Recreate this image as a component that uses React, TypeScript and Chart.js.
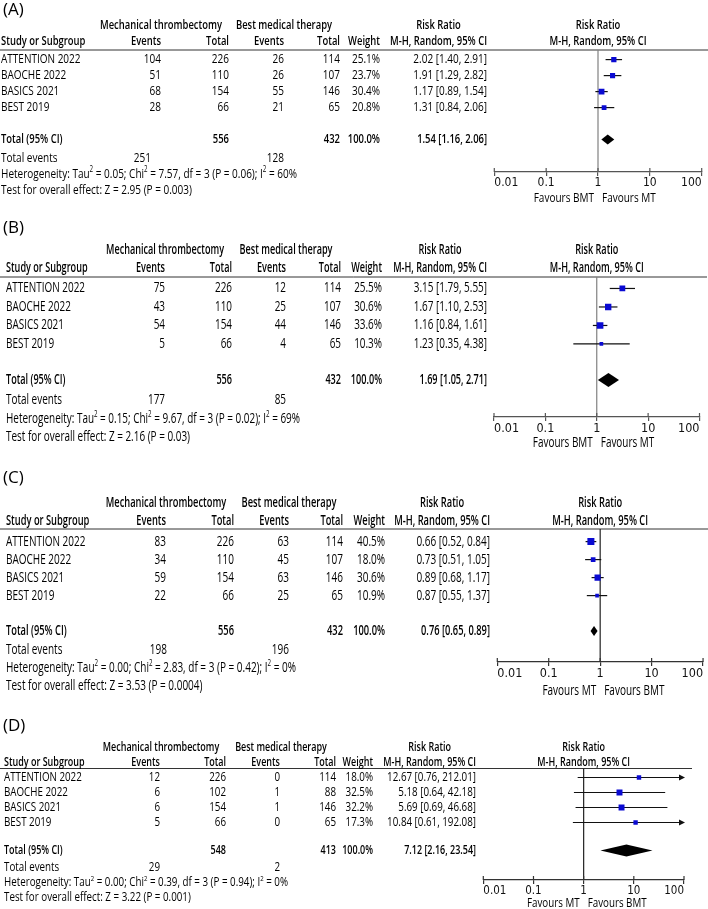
import React, { useEffect, useRef } from 'react';
import { Chart, registerables } from 'chart.js';

Chart.register(...registerables);

const FONT = "'Open Sans', 'Noto Sans', sans-serif";
const TICK_FONT = "'Liberation Sans Narrow', 'DejaVu Sans Condensed', sans-serif";
const BOLD = '600';

const studies = ['ATTENTION 2022', 'BAOCHE 2022', 'BASICS 2021', 'BEST 2019'];
const axisTicks = [0.01, 0.1, 1, 10, 100];
const groupLabels = ['Mechanical thrombectomy', 'Best medical therapy'];
const panelLabels = ['(A)', '(B)', '(C)', '(D)'];

// (A)
const aMtEvents = [104, 51, 68, 28];
const aMtTotal = [226, 110, 154, 66];
const aBmtEvents = [26, 26, 55, 21];
const aBmtTotal = [114, 107, 146, 65];
const aWeight = [25.1, 23.7, 30.4, 20.8];
const aRR = [2.02, 1.91, 1.17, 1.31];
const aLow = [1.4, 1.29, 0.89, 0.84];
const aHigh = [2.91, 2.82, 1.54, 2.06];
const aPooled = [1.54, 1.16, 2.06];
const aHet = ['0.05', '7.57', '3', '0.06', '60'];
const aZ = ['2.95', '0.003'];
const aFavours = ['Favours BMT', 'Favours MT'];

// (B)
const bMtEvents = [75, 43, 54, 5];
const bMtTotal = [226, 110, 154, 66];
const bBmtEvents = [12, 25, 44, 4];
const bBmtTotal = [114, 107, 146, 65];
const bWeight = [25.5, 30.6, 33.6, 10.3];
const bRR = [3.15, 1.67, 1.16, 1.23];
const bLow = [1.79, 1.1, 0.84, 0.35];
const bHigh = [5.55, 2.53, 1.61, 4.38];
const bPooled = [1.69, 1.05, 2.71];
const bHet = ['0.15', '9.67', '3', '0.02', '69'];
const bZ = ['2.16', '0.03'];
const bFavours = ['Favours BMT', 'Favours MT'];

// (C)
const cMtEvents = [83, 34, 59, 22];
const cMtTotal = [226, 110, 154, 66];
const cBmtEvents = [63, 45, 63, 25];
const cBmtTotal = [114, 107, 146, 65];
const cWeight = [40.5, 18.0, 30.6, 10.9];
const cRR = [0.66, 0.73, 0.89, 0.87];
const cLow = [0.52, 0.51, 0.68, 0.55];
const cHigh = [0.84, 1.05, 1.17, 1.37];
const cPooled = [0.76, 0.65, 0.89];
const cHet = ['0.00', '2.83', '3', '0.42', '0'];
const cZ = ['3.53', '0.0004'];
const cFavours = ['Favours MT', 'Favours BMT'];

// (D)
const dMtEvents = [12, 6, 6, 5];
const dMtTotal = [226, 102, 154, 66];
const dBmtEvents = [0, 1, 1, 0];
const dBmtTotal = [114, 88, 146, 65];
const dWeight = [18.0, 32.5, 32.2, 17.3];
const dRR = [12.67, 5.18, 5.69, 10.84];
const dLow = [0.76, 0.64, 0.69, 0.61];
const dHigh = [212.01, 42.18, 46.68, 192.08];
const dPooled = [7.12, 2.16, 23.54];
const dHet = ['0.00', '0.39', '3', '0.94', '0'];
const dZ = ['3.22', '0.001'];
const dFavours = ['Favours MT', 'Favours BMT'];

type PanelData = {
  label: string;
  mtEvents: number[]; mtTotal: number[]; bmtEvents: number[]; bmtTotal: number[];
  weight: number[]; rr: number[]; low: number[]; high: number[];
  pooled: number[]; het: string[]; z: string[]; favours: string[];
};

const panels: PanelData[] = [
  { label: panelLabels[0], mtEvents: aMtEvents, mtTotal: aMtTotal, bmtEvents: aBmtEvents, bmtTotal: aBmtTotal, weight: aWeight, rr: aRR, low: aLow, high: aHigh, pooled: aPooled, het: aHet, z: aZ, favours: aFavours },
  { label: panelLabels[1], mtEvents: bMtEvents, mtTotal: bMtTotal, bmtEvents: bBmtEvents, bmtTotal: bBmtTotal, weight: bWeight, rr: bRR, low: bLow, high: bHigh, pooled: bPooled, het: bHet, z: bZ, favours: bFavours },
  { label: panelLabels[2], mtEvents: cMtEvents, mtTotal: cMtTotal, bmtEvents: cBmtEvents, bmtTotal: cBmtTotal, weight: cWeight, rr: cRR, low: cLow, high: cHigh, pooled: cPooled, het: cHet, z: cZ, favours: cFavours },
  { label: panelLabels[3], mtEvents: dMtEvents, mtTotal: dMtTotal, bmtEvents: dBmtEvents, bmtTotal: dBmtTotal, weight: dWeight, rr: dRR, low: dLow, high: dHigh, pooled: dPooled, het: dHet, z: dZ, favours: dFavours },
];

// Layout (page pixel positions, styles)
const layouts = [
  { top: 0, height: 205, labelY: 10, grpY: 25, hdrY: 41, lineY: 50, rowH: 16, rowOff: 0.6, totalRow: 5.6, evY: 158, hetY: 174, testY: 190, axisY: 172, favY: 198, fs: 13, hetW: 296, grpW: 122, xStudy: 1, xMtEv: 161, xMtTot: 229, xBmtEv: 284, xBmtTot: 340, xW: 380, xRR: 487, plotL: 494.3, plotR: 701.7, lineX2: 708, grpMt: 161, grpBmt: 284, evMtX: 151, sq: 1.05, dh: 10, refColor: '#808080', axisColor: '#555', tickFs: 12 },
  { top: 205, height: 255, labelY: 228, grpY: 250, hdrY: 268, lineY: 277, rowH: 18.5, rowOff: 0.62, totalRow: 5.57, evY: 400, hetY: 419, testY: 437, axisY: 417, favY: 443, fs: 14, hetW: 294, grpW: 118, xStudy: 6, xMtEv: 165, xMtTot: 232, xBmtEv: 286, xBmtTot: 341, xW: 382, xRR: 487, plotL: 494, plotR: 699.5, lineX2: 707, grpMt: 165, grpBmt: 286, evMtX: 165, sq: 1.15, dh: 14, refColor: '#808080', axisColor: '#555', tickFs: 12.5 },
  { top: 460, height: 245, labelY: 478, grpY: 503, hdrY: 521, lineY: 529, rowH: 18, rowOff: 0.7, totalRow: 5.67, evY: 650, hetY: 668, testY: 686, axisY: 662, favY: 691, fs: 14, hetW: 290, grpW: 120.5, xStudy: 6, xMtEv: 166, xMtTot: 234, xBmtEv: 289, xBmtTot: 343, xW: 385, xRR: 490, plotL: 497.3, plotR: 703.3, lineX2: 708, grpMt: 166, grpBmt: 289, evMtX: 167, sq: 1.1, dh: 10, refColor: '#222', axisColor: '#333', tickFs: 12.5 },
  { top: 705, height: 204, labelY: 726, grpY: 748, hdrY: 763, lineY: 768.5, rowH: 15, rowOff: 0.6, totalRow: 5.47, evY: 868, hetY: 883, testY: 898, axisY: 880, favY: 904, fs: 12, hetW: 284, grpW: 116.5, xStudy: 4, xMtEv: 160, xMtTot: 226, xBmtEv: 280, xBmtTot: 336, xW: 373, xRR: 476, plotL: 483.3, plotR: 684, lineX2: 692, grpMt: 161, grpBmt: 281, evMtX: 160, sq: 1.05, dh: 12, refColor: '#222', axisColor: '#333', tickFs: 11.5 },
];

const AXIS_H = 20;
const PAGE_W = 708;

const sum = (a: number[]) => a.reduce((s, v) => s + v, 0);
const fmtCI = (e: number, l: number, h: number) => `${e.toFixed(2)} [${l.toFixed(2)}, ${h.toFixed(2)}]`;

function ForestPanel({ d, L }: { d: PanelData; L: any }) {
  const ref = useRef<HTMLCanvasElement | null>(null);
  useEffect(() => {
    const canvas = ref.current;
    if (!canvas) return;
    const rowVals = d.rr.map((_, i) => L.rowOff + i);
    const yMax = (L.axisY - L.lineY) / L.rowH;
    const off = L.top;

    const plugin = {
      id: 'forestTable',
      beforeDatasetsDraw(chart: any) {
        const ctx = chart.ctx as CanvasRenderingContext2D;
        const xs = chart.scales.x;
        const ys = chart.scales.y;
        const x1 = xs.getPixelForValue(1);
        const yTop = ys.getPixelForValue(0);
        const yBot = ys.getPixelForValue(yMax);
        ctx.save();
        const seg = (a: number, b: number, c: number, e: number) => {
          ctx.beginPath(); ctx.moveTo(a, b); ctx.lineTo(c, e); ctx.stroke();
        };
        ctx.strokeStyle = '#333';
        ctx.lineWidth = 1;
        seg(0, yTop, L.lineX2, yTop);
        ctx.strokeStyle = L.refColor;
        ctx.lineWidth = 1.2;
        seg(x1, yTop, x1, yBot);
        ctx.strokeStyle = L.axisColor;
        ctx.lineWidth = 1.2;
        axisTicks.forEach((t) => {
          const x = xs.getPixelForValue(t);
          seg(x, yBot - 4, x, yBot);
        });
        ctx.strokeStyle = '#111';
        ctx.fillStyle = '#111';
        ctx.lineWidth = 1.2;
        d.low.forEach((lo, i) => {
          const hi = d.high[i];
          const y = ys.getPixelForValue(rowVals[i]);
          const xl = xs.getPixelForValue(Math.max(lo, xs.min));
          const xr = xs.getPixelForValue(Math.min(hi, xs.max));
          seg(xl, y, xr, y);
          if (hi > xs.max) {
            ctx.beginPath(); ctx.moveTo(xr + 1, y); ctx.lineTo(xr - 5, y - 3); ctx.lineTo(xr - 5, y + 3); ctx.closePath(); ctx.fill();
          }
          if (lo < xs.min) {
            ctx.beginPath(); ctx.moveTo(xl - 1, y); ctx.lineTo(xl + 5, y - 3); ctx.lineTo(xl + 5, y + 3); ctx.closePath(); ctx.fill();
          }
        });
        ctx.restore();
      },
      afterDraw(chart: any) {
        const ctx = chart.ctx as CanvasRenderingContext2D;
        const xs = chart.scales.x;
        const ys = chart.scales.y;
        const x1 = xs.getPixelForValue(1);
        ctx.save();
        const yT = ys.getPixelForValue(L.totalRow);
        const [pe, pl, ph] = d.pooled;
        ctx.fillStyle = '#000';
        ctx.beginPath();
        ctx.moveTo(xs.getPixelForValue(pl), yT);
        ctx.lineTo(xs.getPixelForValue(pe), yT - L.dh / 2);
        ctx.lineTo(xs.getPixelForValue(ph), yT);
        ctx.lineTo(xs.getPixelForValue(pe), yT + L.dh / 2);
        ctx.closePath();
        ctx.fill();

        const [tau, chi, df, p, i2] = d.het;
        const hetParts: [string, boolean][] = [
          ['Heterogeneity: Tau', false], ['2', true], [` = ${tau}; Chi`, false], ['2', true],
          [` = ${chi}, df = ${df} (P = ${p}); I`, false], ['2', true], [` = ${i2}%`, false],
        ];
        const supFs = L.fs * 0.62;
        let rawW = 0;
        hetParts.forEach(([t, sup]) => {
          ctx.font = `${sup ? supFs : L.fs}px ${FONT}`;
          rawW += ctx.measureText(t).width;
        });
        const sx = L.hetW / rawW;
        ctx.font = `${BOLD} ${L.fs}px ${FONT}`;
        const sxB = L.grpW / ctx.measureText(groupLabels[0]).width;

        const T = (txt: string, x: number, y: number, align: CanvasTextAlign, bold = false, size = L.fs, scale?: number) => {
          ctx.save();
          ctx.font = `${bold ? BOLD + ' ' : ''}${size}px ${FONT}`;
          ctx.translate(x, y);
          ctx.scale(scale ?? (bold ? sxB : sx), 1);
          ctx.textAlign = align;
          ctx.textBaseline = 'middle';
          ctx.fillStyle = '#000';
          ctx.fillText(txt, 0, 0);
          ctx.restore();
        };
        const W = (txt: string, bold = false) => {
          ctx.save();
          ctx.font = `${bold ? BOLD + ' ' : ''}${L.fs}px ${FONT}`;
          const w = ctx.measureText(txt).width * (bold ? sxB : sx);
          ctx.restore();
          return w;
        };

        T(d.label, 3, L.labelY - off, 'left', false, 17, 1);
        const gy = L.grpY - off;
        T(groupLabels[0], L.grpMt, gy, 'center', true);
        T(groupLabels[1], L.grpBmt, gy, 'center', true);
        const mh = 'M-H, Random, 95% CI';
        const mhW = W(mh, true);
        T('Risk Ratio', L.xRR - mhW / 2, gy, 'center', true);
        T('Risk Ratio', x1, gy, 'center', true);
        const hy = L.hdrY - off;
        T('Study or Subgroup', L.xStudy, hy, 'left', true);
        T('Events', L.xMtEv, hy, 'right', true);
        T('Total', L.xMtTot, hy, 'right', true);
        T('Events', L.xBmtEv, hy, 'right', true);
        T('Total', L.xBmtTot, hy, 'right', true);
        T('Weight', L.xW, hy, 'right', true);
        T(mh, L.xRR, hy, 'right', true);
        T(mh, x1, hy, 'center', true);

        studies.forEach((s, i) => {
          const y = ys.getPixelForValue(rowVals[i]);
          T(s, L.xStudy, y, 'left');
          T(String(d.mtEvents[i]), L.xMtEv, y, 'right');
          T(String(d.mtTotal[i]), L.xMtTot, y, 'right');
          T(String(d.bmtEvents[i]), L.xBmtEv, y, 'right');
          T(String(d.bmtTotal[i]), L.xBmtTot, y, 'right');
          T(`${d.weight[i].toFixed(1)}%`, L.xW, y, 'right');
          T(fmtCI(d.rr[i], d.low[i], d.high[i]), L.xRR, y, 'right');
        });

        T('Total (95% CI)', L.xStudy, yT, 'left', true);
        T(String(sum(d.mtTotal)), L.xMtTot, yT, 'right', true);
        T(String(sum(d.bmtTotal)), L.xBmtTot, yT, 'right', true);
        T(`${sum(d.weight).toFixed(1)}%`, L.xW, yT, 'right', true);
        T(fmtCI(pe, pl, ph), L.xRR, yT, 'right', true);

        const ey = L.evY - off;
        T('Total events', L.xStudy, ey, 'left');
        T(String(sum(d.mtEvents)), L.evMtX, ey, 'right');
        T(String(sum(d.bmtEvents)), L.xBmtEv, ey, 'right');

        let cx = L.xStudy;
        const hy2 = L.hetY - off;
        hetParts.forEach(([t, sup]) => {
          const size = sup ? supFs : L.fs;
          ctx.font = `${size}px ${FONT}`;
          const w = ctx.measureText(t).width * sx;
          T(t, cx, sup ? hy2 - L.fs * 0.32 : hy2, 'left', false, size);
          cx += w;
        });
        T(`Test for overall effect: Z = ${d.z[0]} (P = ${d.z[1]})`, L.xStudy, L.testY - off, 'left');

        const fy = L.favY - off;
        T(d.favours[0], x1 - 4, fy, 'right');
        T(d.favours[1], x1 + 4, fy, 'left');
        ctx.restore();
      },
    };

    const chart = new Chart(canvas, {
      type: 'scatter',
      data: {
        datasets: [
          {
            data: d.rr.map((v, i) => ({ x: v, y: rowVals[i] })),
            pointStyle: 'rect',
            pointRadius: d.weight.map((w) => (Math.sqrt(w) * L.sq) / Math.SQRT2),
            backgroundColor: '#0a0ad2',
            borderWidth: 0,
          },
        ],
      },
      options: {
        responsive: false,
        animation: false,
        events: [],
        layout: {
          padding: {
            left: L.plotL,
            right: PAGE_W - L.plotR,
            top: L.lineY - L.top,
            bottom: L.height - (L.axisY - L.top) - AXIS_H,
          },
        },
        plugins: { legend: { display: false }, tooltip: { enabled: false }, title: { display: false } },
        scales: {
          x: {
            type: 'logarithmic',
            position: 'bottom',
            min: 0.01,
            max: 100,
            afterBuildTicks: (s: any) => {
              s.ticks = axisTicks.map((v) => ({ value: v }));
            },
            afterFit: (s: any) => {
              s.height = AXIS_H;
            },
            ticks: {
              autoSkip: false,
              maxRotation: 0,
              minRotation: 0,
              align: 'inner',
              padding: 0,
              color: '#111',
              font: { family: TICK_FONT, size: L.tickFs },
              callback: (v: any) => String(v),
            },
            grid: { drawOnChartArea: false, drawTicks: true, tickLength: 4, color: L.axisColor, lineWidth: 1.2 },
            border: { display: true, color: L.axisColor, width: 1.2 },
          },
          y: {
            type: 'linear',
            display: false,
            reverse: true,
            min: 0,
            max: yMax,
          },
        },
      },
      plugins: [plugin],
    } as any);
    return () => chart.destroy();
  }, [d, L]);

  return (
    <canvas
      ref={ref}
      width={PAGE_W}
      height={L.height}
      style={{ position: 'absolute', left: 0, top: L.top, width: PAGE_W, height: L.height }}
    />
  );
}

export default function App() {
  return (
    <div style={{ position: 'absolute', left: 0, top: 0, width: PAGE_W, height: 909, background: '#fff' }}>
      {panels.map((p, i) => (
        <ForestPanel key={p.label} d={p} L={layouts[i]} />
      ))}
    </div>
  );
}
